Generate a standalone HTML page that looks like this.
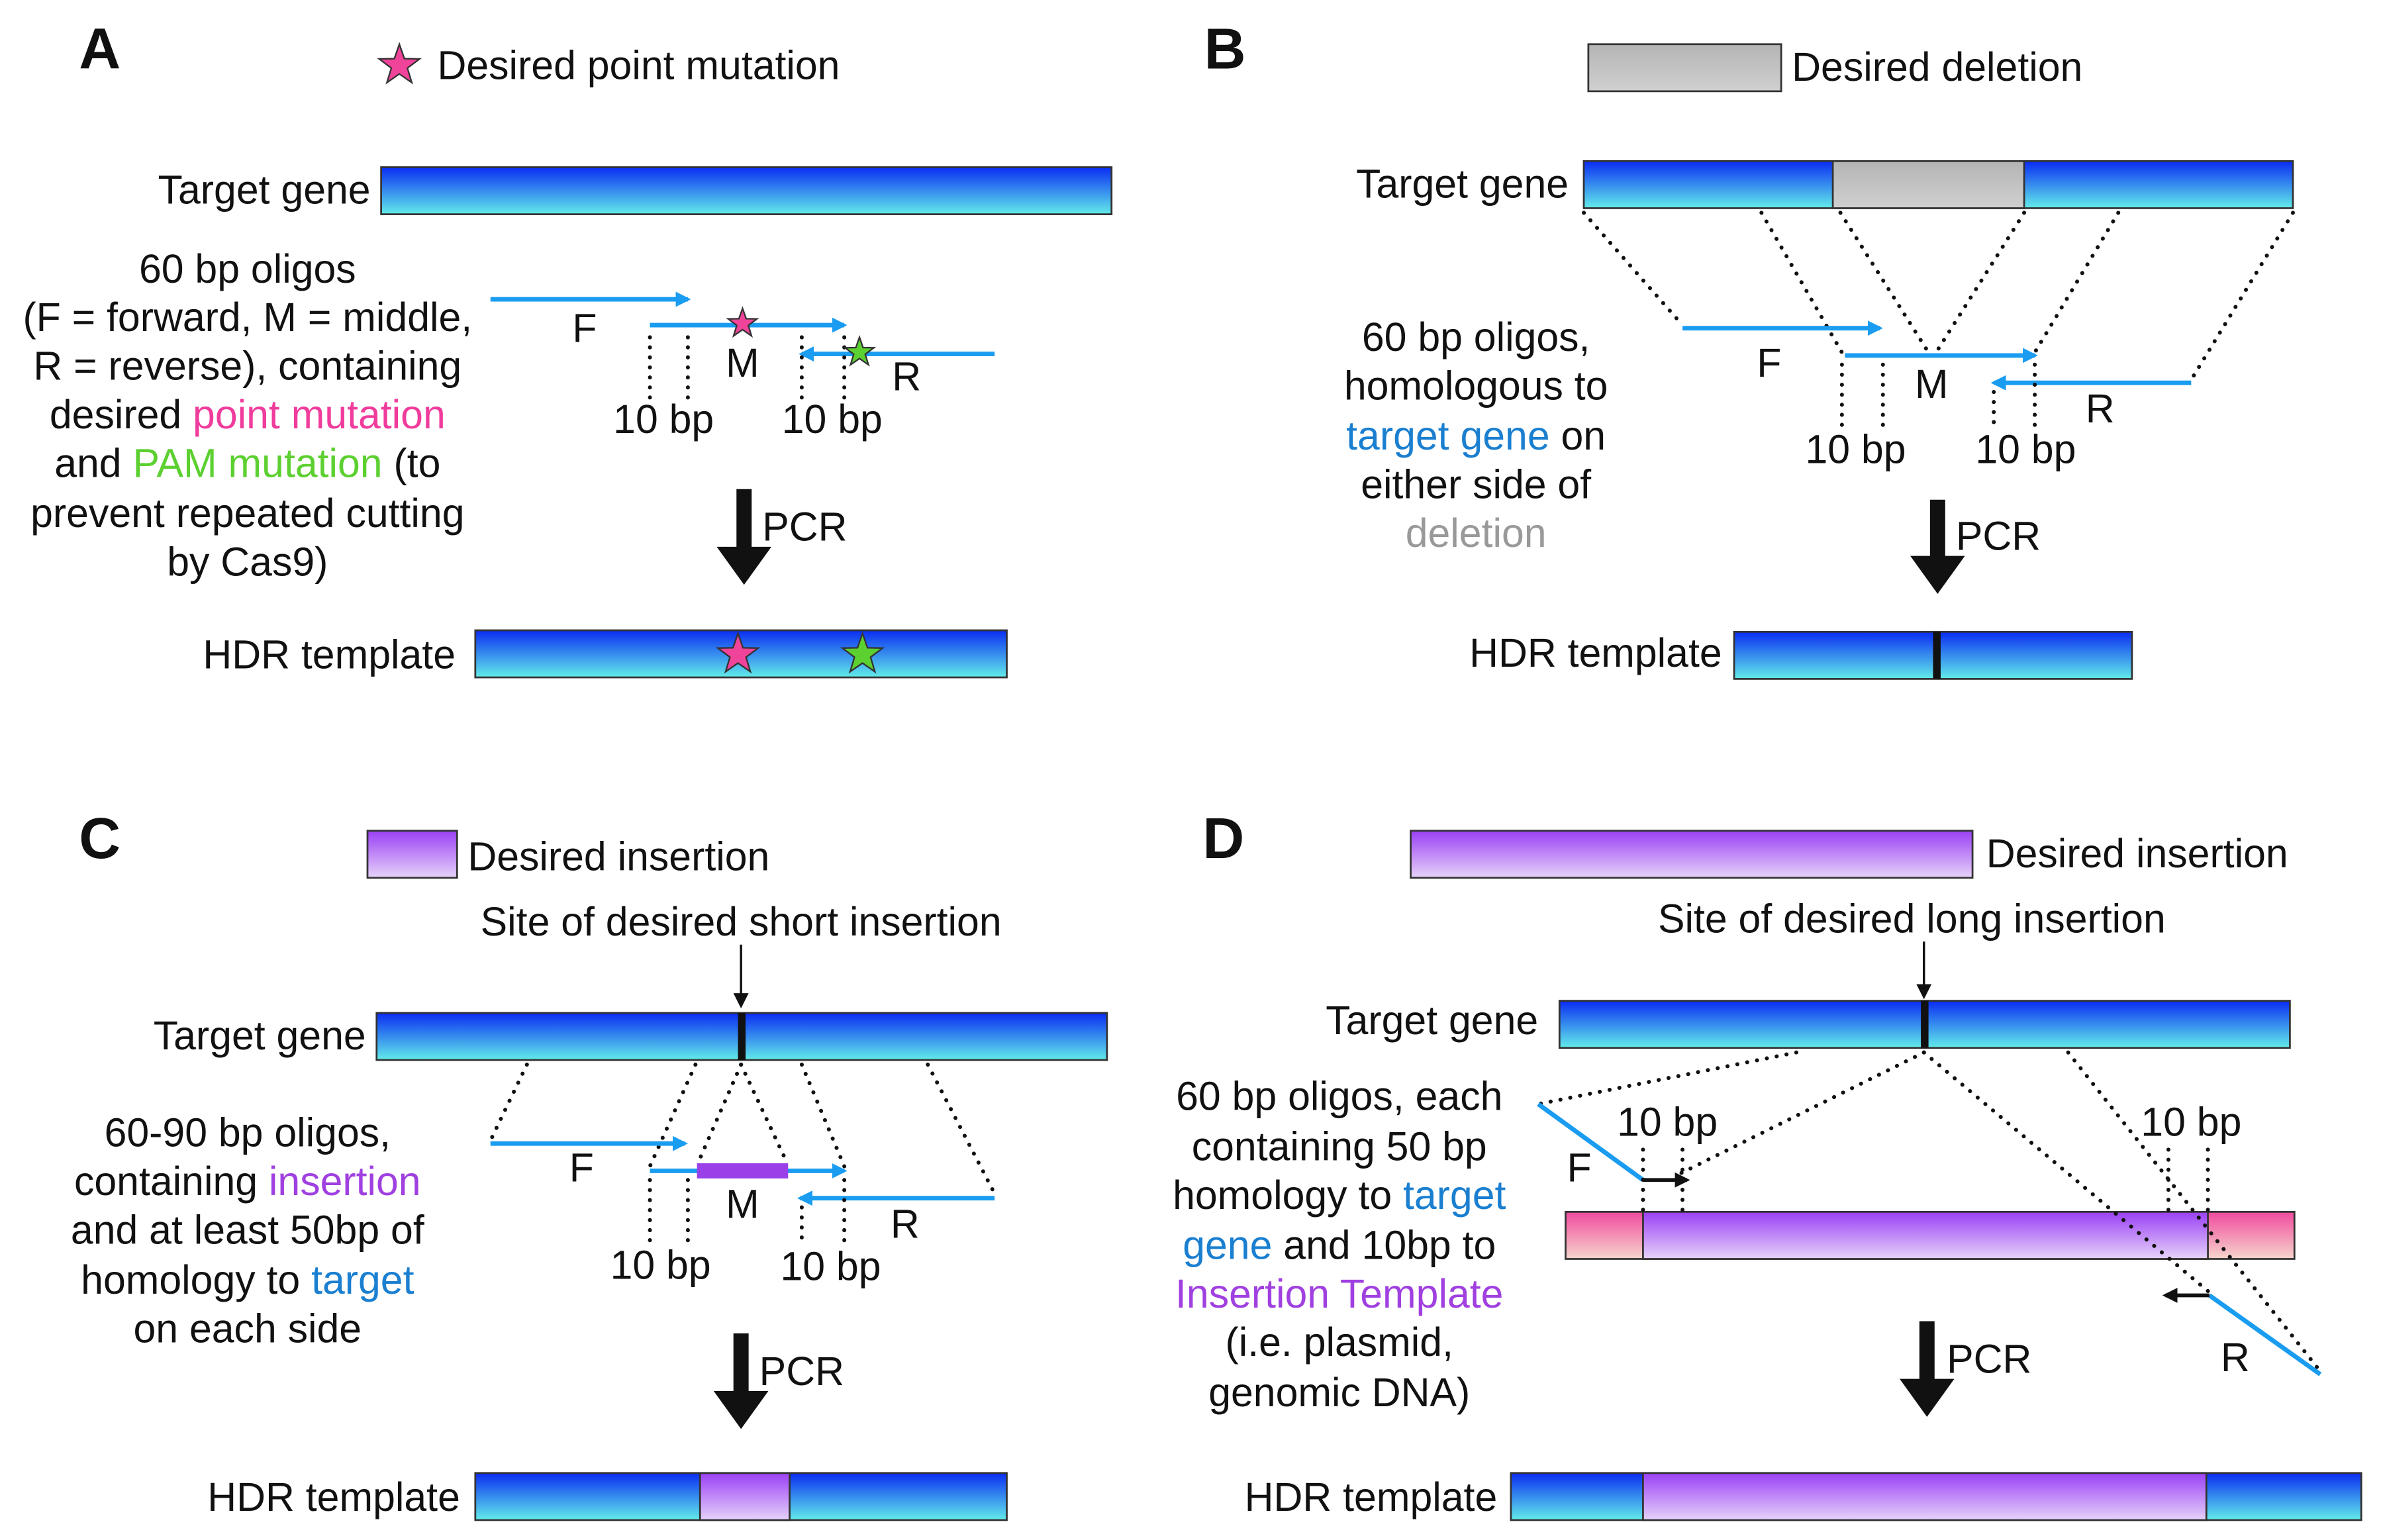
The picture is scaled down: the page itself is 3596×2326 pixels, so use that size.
<!DOCTYPE html>
<html><head><meta charset="utf-8"><style>
html,body{margin:0;padding:0;background:#fff;}
svg{display:block;}
text{font-family:"Liberation Sans",Arial,sans-serif;font-size:26.5px;fill:#111;}
.c{text-anchor:middle;}
.e{text-anchor:end;}
.L{font-size:38px;font-weight:bold;}
.dot{stroke:#111;stroke-width:2.6;stroke-dasharray:0.1 6.5;stroke-linecap:round;fill:none;}
.bl{stroke:#1a9cf0;stroke-width:3;fill:none;}
.bar{stroke:#333;stroke-width:1.2;}
</style></head><body>
<svg width="3596" height="2326" viewBox="0 0 1568 1014" xmlns="http://www.w3.org/2000/svg">
<defs>
<linearGradient id="gb" x1="0" y1="0" x2="0" y2="1"><stop offset="0" stop-color="#0a2cf2"/><stop offset="1" stop-color="#62ecea"/></linearGradient>
<linearGradient id="gp" x1="0" y1="0" x2="0" y2="1"><stop offset="0" stop-color="#9a40f4"/><stop offset="1" stop-color="#e6d2fa"/></linearGradient>
<linearGradient id="gk" x1="0" y1="0" x2="0" y2="1"><stop offset="0" stop-color="#f04a9e"/><stop offset="1" stop-color="#f6d6cc"/></linearGradient>
<linearGradient id="gg" x1="0" y1="0" x2="0" y2="1"><stop offset="0" stop-color="#b4b4b4"/><stop offset="1" stop-color="#d0d0d0"/></linearGradient>
<marker id="ab" markerWidth="10" markerHeight="10" refX="8" refY="5" orient="auto" markerUnits="userSpaceOnUse"><path d="M0,0 L10,5 L0,10 Z" fill="#1a9cf0"/></marker>
<marker id="ak" markerWidth="10" markerHeight="10" refX="8" refY="5" orient="auto" markerUnits="userSpaceOnUse"><path d="M0,0 L10,5 L0,10 Z" fill="#111"/></marker>
<polygon id="star" points="0,-14 3.3,-4.5 13.3,-4.3 5.3,1.7 8.2,11.3 0,5.6 -8.2,11.3 -5.3,1.7 -13.3,-4.3 -3.3,-4.5" stroke="#333" stroke-width="1"/>
<polygon id="sstar" points="0,-10 2.4,-3.2 9.5,-3.1 3.8,1.2 5.9,8.1 0,4 -5.9,8.1 -3.8,1.2 -9.5,-3.1 -2.4,-3.2" stroke="#333" stroke-width="1"/>
</defs>

<!-- ===== A ===== -->
<text x="52" y="45" class="L">A</text>
<use href="#star" x="263" y="43" fill="#f0439a"/>
<text x="288" y="52">Desired point mutation</text>
<text x="244" y="134" class="e">Target gene</text>
<rect x="251" y="110" width="481" height="31" fill="url(#gb)" class="bar"/>
<g class="c">
<text x="163" y="186">60 bp oligos</text>
<text x="163" y="218">(F = forward, M = middle,</text>
<text x="163" y="250">R = reverse), containing</text>
<text x="163" y="282">desired <tspan style="fill:#f03c9c">point mutation</tspan></text>
<text x="163" y="314">and <tspan style="fill:#5cd030">PAM mutation</tspan> (to</text>
<text x="163" y="347">prevent repeated cutting</text>
<text x="163" y="379">by Cas9)</text>
</g>
<line x1="323" y1="197" x2="453" y2="197" class="bl" marker-end="url(#ab)"/>
<line x1="428" y1="214" x2="556" y2="214" class="bl" marker-end="url(#ab)"/>
<line x1="655" y1="233" x2="528" y2="233" class="bl" marker-end="url(#ab)"/>
<line x1="428" y1="222" x2="428" y2="264" class="dot"/>
<line x1="453" y1="222" x2="453" y2="264" class="dot"/>
<line x1="528" y1="222" x2="528" y2="264" class="dot"/>
<line x1="556" y1="222" x2="556" y2="264" class="dot"/>
<use href="#sstar" x="489" y="213" fill="#f0439a"/>
<use href="#sstar" x="566" y="232" fill="#5cd030"/>
<text x="385" y="225" class="c">F</text>
<text x="489" y="248" class="c">M</text>
<text x="597" y="257" class="c">R</text>
<text x="437" y="285" class="c">10 bp</text>
<text x="548" y="285" class="c">10 bp</text>
<polygon points="485,322 495,322 495,360 508,360 490,385 472,360 485,360" fill="#111"/>
<text x="502" y="356">PCR</text>
<text x="300" y="440" class="e">HDR template</text>
<rect x="313" y="415" width="350" height="31" fill="url(#gb)" class="bar"/>
<use href="#star" x="486" y="431" fill="#f0439a"/>
<use href="#star" x="568" y="431" fill="#5cd030"/>

<!-- ===== B ===== -->
<text x="793" y="45" class="L">B</text>
<rect x="1046" y="29" width="127" height="31" fill="url(#gg)" class="bar"/>
<text x="1180" y="53">Desired deletion</text>
<text x="1033" y="130" class="e">Target gene</text>
<rect x="1043" y="106" width="467" height="31" fill="url(#gb)" class="bar"/>
<rect x="1207" y="106" width="126" height="31" fill="url(#gg)" class="bar"/>
<line x1="1043" y1="140" x2="1108" y2="214" class="dot"/>
<line x1="1160" y1="140" x2="1213" y2="232" class="dot"/>
<line x1="1212" y1="140" x2="1270" y2="232" class="dot"/>
<line x1="1333" y1="140" x2="1275" y2="232" class="dot"/>
<line x1="1395" y1="140" x2="1340" y2="232" class="dot"/>
<line x1="1510" y1="140" x2="1443" y2="250" class="dot"/>
<line x1="1108" y1="216" x2="1238" y2="216" class="bl" marker-end="url(#ab)"/>
<line x1="1215" y1="234" x2="1340" y2="234" class="bl" marker-end="url(#ab)"/>
<line x1="1443" y1="252" x2="1313" y2="252" class="bl" marker-end="url(#ab)"/>
<line x1="1213" y1="240" x2="1213" y2="284" class="dot"/>
<line x1="1240" y1="240" x2="1240" y2="284" class="dot"/>
<line x1="1313" y1="258" x2="1313" y2="284" class="dot"/>
<line x1="1340" y1="240" x2="1340" y2="284" class="dot"/>
<text x="1165" y="248" class="c">F</text>
<text x="1272" y="262" class="c">M</text>
<text x="1383" y="278" class="c">R</text>
<text x="1222" y="305" class="c">10 bp</text>
<text x="1334" y="305" class="c">10 bp</text>
<g class="c">
<text x="972" y="231">60 bp oligos,</text>
<text x="972" y="263">homologous to</text>
<text x="972" y="296"><tspan style="fill:#1a7fd0">target gene</tspan> on</text>
<text x="972" y="328">either side of</text>
<text x="972" y="360" style="fill:#999">deletion</text>
</g>
<polygon points="1271,329 1281,329 1281,366 1294,366 1276,391 1258,366 1271,366" fill="#111"/>
<text x="1288" y="362">PCR</text>
<text x="1134" y="439" class="e">HDR template</text>
<rect x="1142" y="416" width="262" height="31" fill="url(#gb)" class="bar"/>
<rect x="1273" y="416" width="5" height="31" fill="#111"/>

<!-- ===== C ===== -->
<text x="52" y="565" class="L">C</text>
<rect x="242" y="547" width="59" height="31" fill="url(#gp)" class="bar"/>
<text x="308" y="573">Desired insertion</text>
<text x="488" y="616" class="c">Site of desired short insertion</text>
<line x1="488" y1="622" x2="488" y2="662" stroke="#111" stroke-width="1.5" marker-end="url(#ak)"/>
<text x="241" y="691" class="e">Target gene</text>
<rect x="248" y="667" width="481" height="31" fill="url(#gb)" class="bar"/>
<rect x="486" y="667" width="5" height="31" fill="#111"/>
<line x1="347" y1="701" x2="323" y2="751" class="dot"/>
<line x1="458" y1="701" x2="428" y2="768" class="dot"/>
<line x1="488" y1="701" x2="460" y2="765" class="dot"/>
<line x1="488" y1="701" x2="518" y2="765" class="dot"/>
<line x1="528" y1="701" x2="556" y2="768" class="dot"/>
<line x1="611" y1="701" x2="655" y2="786" class="dot"/>
<line x1="323" y1="753" x2="451" y2="753" class="bl" marker-end="url(#ab)"/>
<line x1="428" y1="771" x2="556" y2="771" class="bl" marker-end="url(#ab)"/>
<rect x="459" y="766" width="60" height="10" fill="#9a40e8"/>
<line x1="655" y1="789" x2="527" y2="789" class="bl" marker-end="url(#ab)"/>
<line x1="428" y1="777" x2="428" y2="820" class="dot"/>
<line x1="453" y1="777" x2="453" y2="820" class="dot"/>
<line x1="528" y1="795" x2="528" y2="820" class="dot"/>
<line x1="556" y1="777" x2="556" y2="820" class="dot"/>
<text x="383" y="778" class="c">F</text>
<text x="489" y="802" class="c">M</text>
<text x="596" y="815" class="c">R</text>
<text x="435" y="842" class="c">10 bp</text>
<text x="547" y="843" class="c">10 bp</text>
<g class="c">
<text x="163" y="755">60-90 bp oligos,</text>
<text x="163" y="787">containing <tspan style="fill:#a040e0">insertion</tspan></text>
<text x="163" y="819">and at least 50bp of</text>
<text x="163" y="852">homology to <tspan style="fill:#1a7fd0">target</tspan></text>
<text x="163" y="884">on each side</text>
</g>
<polygon points="483,878 493,878 493,916 506,916 488,941 470,916 483,916" fill="#111"/>
<text x="500" y="912">PCR</text>
<text x="303" y="995" class="e">HDR template</text>
<rect x="313" y="970" width="350" height="31" fill="url(#gb)" class="bar"/>
<rect x="461" y="970" width="59" height="31" fill="url(#gp)" class="bar"/>

<!-- ===== D ===== -->
<text x="792" y="565" class="L">D</text>
<rect x="929" y="547" width="370" height="31" fill="url(#gp)" class="bar"/>
<text x="1308" y="571">Desired insertion</text>
<text x="1259" y="614" class="c">Site of desired long insertion</text>
<line x1="1267" y1="620" x2="1267" y2="656" stroke="#111" stroke-width="1.5" marker-end="url(#ak)"/>
<text x="1013" y="681" class="e">Target gene</text>
<rect x="1027" y="659" width="481" height="31" fill="url(#gb)" class="bar"/>
<rect x="1265" y="659" width="5" height="31" fill="#111"/>
<rect x="1031" y="798" width="480" height="31" fill="url(#gk)" class="bar"/>
<rect x="1082" y="798" width="372" height="31" fill="url(#gp)" class="bar"/>
<line x1="1183" y1="693" x2="1013" y2="727" class="dot"/>
<line x1="1267" y1="693" x2="1106" y2="773" class="dot"/>
<line x1="1267" y1="693" x2="1455" y2="851" class="dot"/>
<line x1="1362" y1="693" x2="1528" y2="903" class="dot"/>
<line x1="1013" y1="727" x2="1082" y2="777" class="bl"/>
<line x1="1082" y1="777" x2="1111" y2="777" stroke="#111" stroke-width="2.5" marker-end="url(#ak)"/>
<line x1="1455" y1="853" x2="1528" y2="905" class="bl"/>
<line x1="1455" y1="853" x2="1426" y2="853" stroke="#111" stroke-width="2.5" marker-end="url(#ak)"/>
<line x1="1082" y1="757" x2="1082" y2="797" class="dot"/>
<line x1="1108" y1="757" x2="1108" y2="797" class="dot"/>
<line x1="1428" y1="757" x2="1428" y2="797" class="dot"/>
<line x1="1454" y1="757" x2="1454" y2="797" class="dot"/>
<text x="1098" y="748" class="c">10 bp</text>
<text x="1443" y="748" class="c">10 bp</text>
<text x="1040" y="778" class="c">F</text>
<text x="1472" y="903" class="c">R</text>
<g class="c">
<text x="882" y="731">60 bp oligos, each</text>
<text x="882" y="764">containing 50 bp</text>
<text x="882" y="796">homology to <tspan style="fill:#1a7fd0">target</tspan></text>
<text x="882" y="829"><tspan style="fill:#1a7fd0">gene</tspan> and 10bp to</text>
<text x="882" y="861" style="fill:#a040e0">Insertion Template</text>
<text x="882" y="893">(i.e. plasmid,</text>
<text x="882" y="926">genomic DNA)</text>
</g>
<polygon points="1264,870 1274,870 1274,908 1287,908 1269,933 1251,908 1264,908" fill="#111"/>
<text x="1282" y="904">PCR</text>
<text x="986" y="995" class="e">HDR template</text>
<rect x="995" y="970" width="560" height="31" fill="url(#gb)" class="bar"/>
<rect x="1082" y="970" width="371" height="31" fill="url(#gp)" class="bar"/>
</svg>
</body></html>
